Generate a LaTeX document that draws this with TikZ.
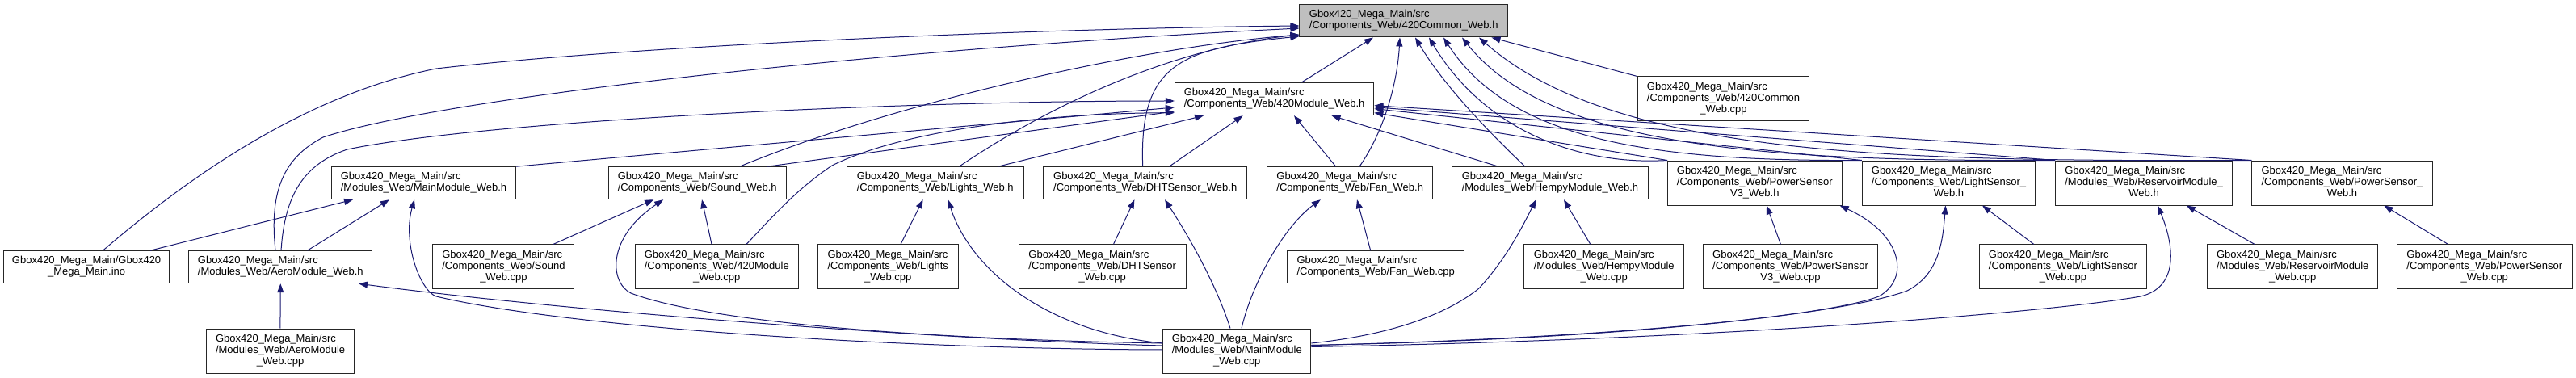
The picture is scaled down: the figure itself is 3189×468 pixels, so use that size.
\documentclass[tikz,border=0pt]{standalone}
\usepackage{fontspec}
\setmainfont{Liberation Sans}
\usetikzlibrary{arrows.meta}
\definecolor{edgeblue}{HTML}{191970}
\definecolor{rootgrey}{HTML}{BFBFBF}
% all lines but the last flush left, the last one centred
\newcommand{\flab}[2]{\begin{tabular}{@{}l@{}}#1\\\multicolumn{1}{@{}c@{}}{#2}\end{tabular}}
\newcommand{\gsrc}{Gbox420\_Mega\_Main/src}

\begin{document}
\begin{tikzpicture}[x=1pt, y=-1pt,
    file/.style={draw=black!85, line width=1pt, fill=white, inner sep=0pt,
      font=\fontsize{13}{14}\selectfont, minimum height=40pt},
    tall/.style={minimum height=55pt},
    dep/.style={draw=edgeblue, line width=1pt, -{Triangle[length=11pt, width=8pt]}}]
  \useasboundingbox (0,0) rectangle (3189,468);

  % top
  \node[file, fill=rootgrey, minimum width=257.6pt] (common) at (1737.7,26) {\flab{\gsrc}{/Components\_Web/420Common\_Web.h}};
  \node[file, minimum width=246.6pt] (module) at (1577.6,122.7) {\flab{\gsrc}{/Components\_Web/420Module\_Web.h}};
  \node[file, tall, minimum width=212.5pt] (commoncpp) at (2133.5,122.5) {\flab{\gsrc\\/Components\_Web/420Common}{\_Web.cpp}};

  % headers
  \node[file, minimum width=228pt] (mainmod) at (524.5,226.7) {\flab{\gsrc}{/Modules\_Web/MainModule\_Web.h}};
  \node[file, minimum width=220pt] (sound) at (863.2,226.7) {\flab{\gsrc}{/Components\_Web/Sound\_Web.h}};
  \node[file, minimum width=219pt] (lights) at (1157.7,226.7) {\flab{\gsrc}{/Components\_Web/Lights\_Web.h}};
  \node[file, minimum width=252pt] (dht) at (1417.7,226.7) {\flab{\gsrc}{/Components\_Web/DHTSensor\_Web.h}};
  \node[file, minimum width=205pt] (fan) at (1671.2,226.7) {\flab{\gsrc}{/Components\_Web/Fan\_Web.h}};
  \node[file, minimum width=243pt] (hempy) at (1919,226.7) {\flab{\gsrc}{/Modules\_Web/HempyModule\_Web.h}};
  \node[file, tall, minimum width=215.6pt] (powerv3) at (2172.3,226.5) {\flab{\gsrc\\/Components\_Web/PowerSensor}{V3\_Web.h}};
  \node[file, tall, minimum width=214.5pt] (lightsensor) at (2412.5,226.5) {\flab{\gsrc\\/Components\_Web/LightSensor\_}{Web.h}};
  \node[file, tall, minimum width=219pt] (reservoir) at (2654.1,226.5) {\flab{\gsrc\\/Modules\_Web/ReservoirModule\_}{Web.h}};
  \node[file, tall, minimum width=223.5pt] (power) at (2899.5,226.5) {\flab{\gsrc\\/Components\_Web/PowerSensor\_}{Web.h}};

  % sources
  \node[file, minimum width=204.6pt] (ino) at (107.1,330.7) {\flab{Gbox420\_Mega\_Main/Gbox420}{\_Mega\_Main.ino}};
  \node[file, minimum width=227pt] (aero) at (347.3,330.7) {\flab{\gsrc}{/Modules\_Web/AeroModule\_Web.h}};
  \node[file, tall, minimum width=175pt] (soundcpp) at (623.4,330.4) {\flab{\gsrc\\/Components\_Web/Sound}{\_Web.cpp}};
  \node[file, tall, minimum width=201.5pt] (modulecpp) at (887.3,330.4) {\flab{\gsrc\\/Components\_Web/420Module}{\_Web.cpp}};
  \node[file, tall, minimum width=173.6pt] (lightscpp) at (1099.2,330.4) {\flab{\gsrc\\/Components\_Web/Lights}{\_Web.cpp}};
  \node[file, tall, minimum width=206.6pt] (dhtcpp) at (1364.7,330.4) {\flab{\gsrc\\/Components\_Web/DHTSensor}{\_Web.cpp}};
  \node[file, minimum width=218.7pt] (fancpp) at (1703.2,330.7) {\flab{\gsrc}{/Components\_Web/Fan\_Web.cpp}};
  \node[file, tall, minimum width=197.7pt] (hempycpp) at (1985.7,330.4) {\flab{\gsrc\\/Modules\_Web/HempyModule}{\_Web.cpp}};
  \node[file, tall, minimum width=216pt] (powerv3cpp) at (2216.5,330.4) {\flab{\gsrc\\/Components\_Web/PowerSensor}{V3\_Web.cpp}};
  \node[file, tall, minimum width=206.6pt] (lightsensorcpp) at (2553.9,330.4) {\flab{\gsrc\\/Components\_Web/LightSensor}{\_Web.cpp}};
  \node[file, tall, minimum width=211pt] (reservoircpp) at (2838.2,330.4) {\flab{\gsrc\\/Modules\_Web/ReservoirModule}{\_Web.cpp}};
  \node[file, tall, minimum width=216.6pt] (powercpp) at (3075.8,330.4) {\flab{\gsrc\\/Components\_Web/PowerSensor}{\_Web.cpp}};

  % bottom
  \node[file, tall, minimum width=183pt] (aerocpp) at (347.1,434.5) {\flab{\gsrc\\/Modules\_Web/AeroModule}{\_Web.cpp}};
  \node[file, tall, minimum width=183pt] (mainmodcpp) at (1531.3,434.5) {\flab{\gsrc\\/Modules\_Web/MainModule}{\_Web.cpp}};

  % sources to their own headers
  \foreach \src/\dst/\fx/\tx in {aerocpp/aero/-0.2/0, soundcpp/sound/61.6/-54, modulecpp/sound/-6.3/5.8,
      lightscpp/lights/15.8/-15.1, dhtcpp/dht/13.8/-13.3, fancpp/fan/-6.5/8.8, hempycpp/hempy/-16.9/17,
      powerv3cpp/powerv3/-12.1/14.7, lightsensorcpp/lightsensor/-36.2/41.5,
      reservoircpp/reservoir/-47.2/52.7, powercpp/power/-45.3/51.8}
    \draw[dep] ([xshift=\fx pt]\src.north) -- ([xshift=\tx pt]\dst.south);
  \draw[dep] ([xshift=78.9pt]ino.north) -- ([xshift=-87.5pt]mainmod.south);
  \draw[dep] ([xshift=33.2pt]aero.north) -- ([xshift=-42.5pt]mainmod.south);

  % headers to 420Module_Web.h
  \foreach \src/\fx/\tx in {lights/77.9/-87.6, dht/29.7/-39, fan/-17.5/24.4, hempy/-64/70.9}
    \draw[dep] ([xshift=\fx pt]\src.north) -- ([xshift=\tx pt]module.south);
  \foreach \src/\sy in {powerv3/-17, lightsensor/-12, reservoir/-10, power/-8}
    \draw[dep] (\src.north west) -- ([yshift=\sy pt]module.east);
  \draw[dep] (mainmod.north east) -- ([yshift=-10.3pt]module.west);
  \draw[dep] ([xshift=86.8pt]sound.north) -- ([yshift=-15.3pt]module.west);
  \draw[dep] ([xshift=0.7pt]aero.north) .. controls (352,250) and (370,205) .. (430,185)
    .. controls (600,150) and (1100,125) .. ([yshift=-2.3pt]module.west);
  \draw[dep] ([xshift=36.7pt]modulecpp.north) .. controls (955,270) and (985,235) .. (1030,205)
    .. controls (1120,160) and (1300,140) .. ([yshift=-17pt]module.west);

  % everything to 420Common_Web.h
  \draw[dep] ([xshift=33.4pt]module.north) -- ([xshift=-37.7pt]common.south);
  \draw[dep] (commoncpp.north west) -- ([xshift=108.8pt]common.south);
  \draw[dep] ([xshift=20.3pt]ino.north) .. controls (250,205) and (390,115) .. (540,85)
    .. controls (800,55) and (1300,35) .. ([yshift=-6pt]common.west);
  \draw[dep] ([xshift=-6.3pt]aero.north) .. controls (333,235) and (352,195) .. (400,170)
    .. controls (550,120) and (1100,60) .. ([yshift=-9pt]common.west);
  \draw[dep] ([xshift=52.5pt]sound.north) .. controls (1100,130) and (1400,60) .. ([yshift=-17pt]common.west);
  \draw[dep] ([xshift=29.7pt]lights.north) .. controls (1300,130) and (1450,60) .. ([yshift=-17pt]common.west);
  \draw[dep] ([xshift=-3pt]dht.north) .. controls (1410,80) and (1460,60) .. ([yshift=-19pt]common.west);
  \draw[dep] ([xshift=11.8pt]fan.north) .. controls (1715,160) and (1730,100) .. ([xshift=-4.7pt]common.south);
  \draw[dep] ([xshift=-31.1pt]hempy.north) .. controls (1850,170) and (1790,110) .. ([xshift=14.3pt]common.south);
  \draw[dep] (powerv3.north west) .. controls (1960,205) and (1840,165) .. ([xshift=31.3pt]common.south);
  \draw[dep] (lightsensor.north west) .. controls (2050,200) and (1870,175) .. ([xshift=49.3pt]common.south);
  \draw[dep] (reservoir.north west) .. controls (2200,200) and (1920,185) .. ([xshift=72.3pt]common.south);
  \draw[dep] (power.north west) .. controls (2350,200) and (2000,195) .. ([xshift=93.3pt]common.south);

  % MainModule_Web.cpp to the headers it pulls in
  \draw[dep] ([yshift=6.5pt]mainmodcpp.west) .. controls (1150,420) and (700,385) .. ([xshift=96.7pt]aero.south);
  \draw[dep] ([yshift=1.5pt]mainmodcpp.west) .. controls (1100,432) and (700,405) .. (540,367)
    .. controls (520,360) and (498,300) .. ([xshift=-11.5pt]mainmod.south);
  \draw[dep] ([yshift=9.5pt]mainmodcpp.west) .. controls (1150,420) and (880,400) .. (781,363)
    .. controls (755,350) and (750,295) .. ([xshift=-42pt]sound.south);
  \draw[dep] ([yshift=9.5pt]mainmodcpp.west) .. controls (1290,410) and (1200,330) .. ([xshift=15.9pt]lights.south);
  \draw[dep] ([xshift=-8.3pt]mainmodcpp.north) .. controls (1505,350) and (1470,290) .. ([xshift=24.3pt]dht.south);
  \draw[dep] ([xshift=5.7pt]mainmodcpp.north) .. controls (1550,350) and (1590,280) .. ([xshift=-36.4pt]fan.south);
  \draw[dep] ([yshift=9.5pt]mainmodcpp.east) .. controls (1720,415) and (1790,390) .. (1831,357)
    .. controls (1865,320) and (1885,280) .. ([xshift=-17.4pt]hempy.south);
  \draw[dep] ([yshift=7pt]mainmodcpp.east) .. controls (1950,420) and (2250,395) .. (2326,367)
    .. controls (2365,345) and (2355,290) .. ([xshift=-3pt]powerv3.south east);
  \draw[dep] ([yshift=7pt]mainmodcpp.east) .. controls (2000,420) and (2280,390) .. (2361,360)
    .. controls (2400,340) and (2405,300) .. ([xshift=-4pt]lightsensor.south);
  \draw[dep] ([yshift=5pt]mainmodcpp.east) .. controls (2150,420) and (2550,385) .. (2650,367)
    .. controls (2700,355) and (2690,300) .. ([xshift=17pt]reservoir.south);
\end{tikzpicture}
\end{document}
